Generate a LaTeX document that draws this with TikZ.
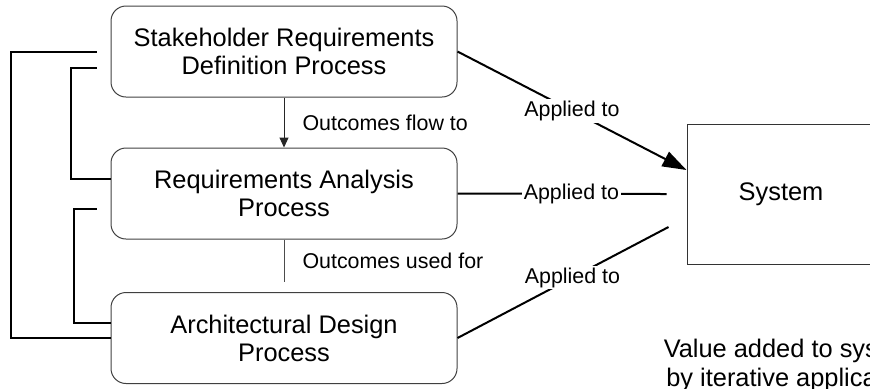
\documentclass[tikz,border=0pt]{standalone}
\usepackage{fontspec}
\setmainfont{Liberation Sans}
\usetikzlibrary{arrows.meta}
\tikzset{
  proc/.style={draw=black!75, line width=0.5pt, rounded corners=7.5pt,
    minimum width=173pt, minimum height=45.5pt, inner sep=0pt,
    align=center, font=\fontsize{12.7}{14}\selectfont},
  sysbox/.style={draw=black!80, line width=0.5pt, minimum width=94pt,
    minimum height=70pt, inner sep=0pt, font=\fontsize{12.7}{14}\selectfont},
  feed/.style={line width=1pt},
  flow/.style={draw=black!70, line width=0.5pt},
  flowlbl/.style={font=\fontsize{10.7}{12}\selectfont, inner sep=0pt},
  applbl/.style={font=\fontsize{10.7}{12}\selectfont, fill=white, inner sep=1pt}
}
\begin{document}
\begin{tikzpicture}[x=0.5pt,y=-0.5pt]
\useasboundingbox (0,0) rectangle (870,388);
\clip (0,0) rectangle (870,388);
%% Prozesse
\node[proc] (srd) at (284,51.5) {Stakeholder Requirements\\Definition Process};
\node[proc] (ra) at (284,193.5) {Requirements Analysis\\Process};
\node[proc] (ad) at (284,338) {Architectural Design\\Process};
\node[sysbox] (sys) at (781,194) {System};
\node[align=center, font=\fontsize{12.7}{14.5}\selectfont] (val) at (792,365)
  {Value added to system\\by iterative application};
%% Rueckkopplung links
\coordinate (fb1) at ([xshift=-7pt]srd.west);
\coordinate (fb2) at ([xshift=-7pt,yshift=-8pt]srd.west);
\coordinate (fb3) at ([xshift=-7pt,yshift=-7.5pt]ra.west);
\draw[feed] (fb1) -- (11,51.5) |- (ad.west);
\draw[feed] (fb2) -- (71,67.5) |- ([yshift=7.5pt]ra.west);
\draw[feed] (fb3) -- (74,208.5) |- ([yshift=7.5pt]ad.west);
%% Ergebnisse
\coordinate (adtop) at ([yshift=5pt]ad.north);
\draw[flow,draw=black!85,-{Triangle[length=5pt,width=4.5pt]}] (srd) -- (ra)
  node[flowlbl,midway,right,xshift=9pt] {Outcomes flow to};
\draw[flow] (ra.south) -- (adtop)
  node[flowlbl,midway,right,xshift=9pt] {Outcomes used for};
%% Anwendung auf das System
\coordinate (s1) at ([yshift=12pt]sys.west);
\coordinate (s2) at ([xshift=-10pt]sys.west);
\coordinate (s3) at ([xshift=-9pt,yshift=-16.5pt]sys.west);
\draw[feed,-{Triangle[length=12pt,width=8pt]}] (srd.east) -- (s1)
  node[applbl,midway] {Applied to};
\draw[feed] (ra.east) -- (s2) node[applbl,pos=0.545] {Applied to};
\draw[feed] (ad.east) -- (s3) node[applbl,pos=0.545] {Applied to};
\end{tikzpicture}
\end{document}
